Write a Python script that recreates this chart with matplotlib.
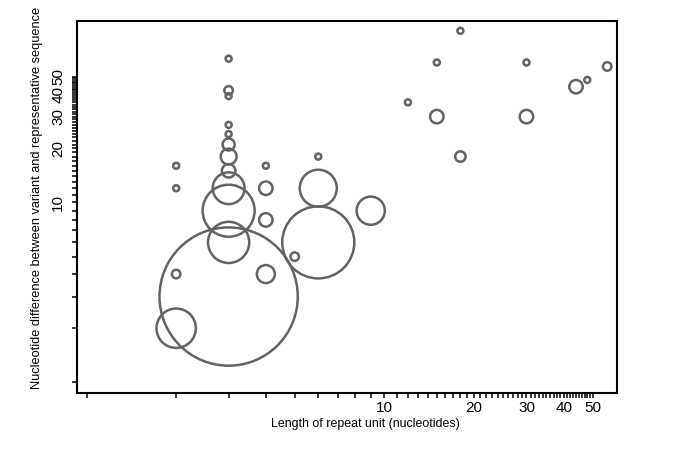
import numpy as np
import matplotlib
matplotlib.use('Agg')
import matplotlib.pyplot as plt
from matplotlib.ticker import FixedLocator, FixedFormatter, NullLocator

plt.rcParams.update({
    'font.family': ['Liberation Sans', 'DejaVu Sans'],
    'font.size': 8,
})

# repeat unit length (x), nucleotide difference (y), number of variants (bubble weight)
repeat_len = [2, 2, 2, 2,
              3, 3, 3, 3, 3, 3, 3, 3, 3, 3, 3, 3,
              4, 4, 4, 4,
              5,
              6, 6, 6,
              9,
              12,
              15, 15,
              18, 18,
              30, 30,
              44, 48, 56]
nt_diff = [16, 12, 4, 2,
           63, 42, 39, 27, 24, 21, 18, 15, 12, 9, 6, 3,
           16, 12, 8, 4,
           5,
           18, 12, 6,
           9,
           36,
           60, 30,
           90, 18,
           60, 30,
           44, 48, 57]
n_variants = [1, 1, 2, 43,
              1, 2, 1, 1, 1, 4, 7, 5, 28, 75, 47, 530,
              1, 5, 5, 9,
              2,
              1, 38, 144,
              22,
              1,
              1, 5,
              1, 3,
              1, 5,
              5, 1, 2]

tick_vals = list(range(1, 51))
label_vals = [10, 20, 30, 40, 50]
tick_text = [str(v) if v in label_vals else '' for v in tick_vals]

fig = plt.figure(figsize=(6.85, 4.51), dpi=100)
ax = fig.add_axes([0.1124, 0.1286, 0.7883, 0.8248])

# marker area proportional to count
sizes = 18.7 * np.array(n_variants)
ax.scatter(repeat_len, nt_diff, s=sizes, facecolors='none',
           edgecolors='#636363', linewidths=1.8, zorder=3)

ax.set_xscale('log')
ax.set_yscale('log')
ax.set_xlim(0.929, 60.4)
ax.set_ylim(0.873, 102)

ax.xaxis.set_major_locator(FixedLocator(tick_vals))
ax.xaxis.set_major_formatter(FixedFormatter(tick_text))
ax.xaxis.set_minor_locator(NullLocator())
ax.yaxis.set_major_locator(FixedLocator(tick_vals))
ax.yaxis.set_major_formatter(FixedFormatter(tick_text))
ax.yaxis.set_minor_locator(NullLocator())

ax.tick_params(axis='both', direction='out', length=3.5, width=1.1,
               labelsize=11, color='black')
ax.tick_params(axis='x', pad=2.5)
ax.tick_params(axis='y', pad=5)
for lab in ax.get_yticklabels():
    lab.set_rotation(90)
    lab.set_va('center')

for sp in ax.spines.values():
    sp.set_linewidth(1.5)
    sp.set_color('black')

ax.set_xlabel('Length of repeat unit (nucleotides)', fontsize=8.9)
ax.set_ylabel('Nucleotide difference between variant and representative sequence',
              fontsize=9.2)
ax.xaxis.set_label_coords(0.534, -0.068)
ax.yaxis.set_label_coords(-0.063, 0.524)

fig.savefig('out.png', dpi=100)
